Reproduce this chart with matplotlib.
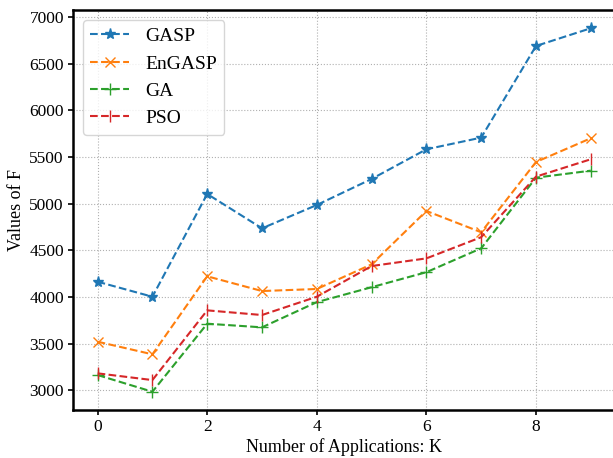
import matplotlib
matplotlib.use("Agg")
import matplotlib.pyplot as plt

# 各アルゴリズムの目的関数値
K = list(range(10))
gasp   = [4163, 4002, 5103, 4735, 4985, 5264, 5582, 5707, 6689, 6879]
engasp = [3520, 3385, 4221, 4063, 4085, 4349, 4921, 4693, 5446, 5700]
ga     = [3163, 2984, 3713, 3674, 3944, 4104, 4265, 4521, 5278, 5353]
pso    = [3181, 3109, 3856, 3806, 4002, 4331, 4413, 4640, 5289, 5475]

plt.rcParams["font.family"] = ["Liberation Serif", "DejaVu Serif"]

fig = plt.figure(figsize=(6.13, 4.58), dpi=100)
ax = fig.add_axes([0.119, 0.105, 0.885, 0.873])

ax.plot(K, gasp,   "--", marker="*", color="#1f77b4", markersize=8, label="GASP")
ax.plot(K, engasp, "--", marker="x", color="#ff7f0e", markersize=7, label="EnGASP")
ax.plot(K, ga,     "--", marker="+", color="#2ca02c", markersize=8, label="GA")
ax.plot(K, pso,    "--", marker="|", color="#d62728", markersize=8, label="PSO")

ax.grid(True, linestyle=":", color="#b0b0b0")
for sp in ax.spines.values():
    sp.set_linewidth(1.8)
ax.tick_params(labelsize=12.5, width=1.2, pad=3)

ax.set_xlabel("Number of Applications: K", fontsize=13, labelpad=2)
ax.set_ylabel("Values of F", fontsize=13, labelpad=3)
ax.legend(loc="upper left", fontsize=14, borderpad=0.4, handlelength=2.0,
          handletextpad=0.8)

fig.savefig("out.png", dpi=100)
